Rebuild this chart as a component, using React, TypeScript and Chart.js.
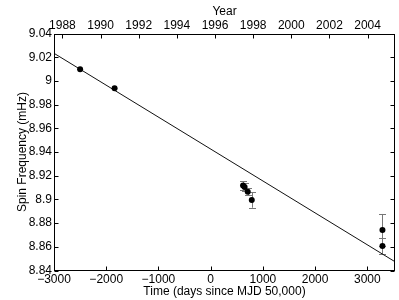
import React, { useEffect, useRef } from "react";
import { Chart, registerables } from "chart.js";

Chart.register(...registerables);

// Observations: days since MJD 50,000 and spin frequency (mHz)
const obsDays = [-2500, -1840, 620, 650, 710, 787, 3290, 3290];
const obsFreq = [9.0098, 8.9938, 8.9118, 8.9105, 8.9065, 8.8995, 8.8742, 8.8607];
const errUp = [0, 0, 0.0035, 0.003, 0.003, 0.0065, 0.0135, 0.0067];
const errDown = [0, 0, 0.0035, 0.003, 0.003, 0.0065, 0.0135, 0.0067];

// Linear fit line endpoints
const fitDays = [-3000, 3530];
const fitFreq = [9.0233, 8.8474];

// Axis tick labels
const yearTicks = [1988, 1990, 1992, 1994, 1996, 1998, 2000, 2002, 2004];
const dayTicks = [-3000, -2000, -1000, 0, 1000, 2000, 3000];
const freqTicks = [8.84, 8.86, 8.88, 8.9, 8.92, 8.94, 8.96, 8.98, 9.0, 9.02, 9.04];

const yearToDays = (y: number) => Date.UTC(y, 0, 1) / 86400000 + 40587 - 50000;
const yearOffsets = yearTicks.map(yearToDays);

const FONT = "'Liberation Sans', Arial, Helvetica, sans-serif";

const fmtFreq = (v: number) => String(parseFloat(Number(v).toFixed(2)));
const fmtDays = (v: number) => (v < 0 ? "\u2212" + Math.abs(v) : String(v));

const boxPlugin = {
  id: "boxTicks",
  beforeDatasetsDraw(chart: any) {
    const ctx = chart.ctx;
    const xs = chart.scales.x;
    const ys = chart.scales.y;
    ctx.save();
    ctx.strokeStyle = "#777";
    ctx.lineWidth = 1;
    obsDays.forEach((d, i) => {
      if (!errUp[i] && !errDown[i]) return;
      const px = Math.round(xs.getPixelForValue(d)) + 0.5;
      const yt = ys.getPixelForValue(obsFreq[i] + errUp[i]);
      const yb = ys.getPixelForValue(obsFreq[i] - errDown[i]);
      ctx.beginPath();
      ctx.moveTo(px, yt);
      ctx.lineTo(px, yb);
      ctx.moveTo(px - 3.5, Math.round(yt) + 0.5);
      ctx.lineTo(px + 3.5, Math.round(yt) + 0.5);
      ctx.moveTo(px - 3.5, Math.round(yb) + 0.5);
      ctx.lineTo(px + 3.5, Math.round(yb) + 0.5);
      ctx.stroke();
    });
    ctx.restore();
  },
  afterDraw(chart: any) {
    const ctx = chart.ctx;
    const a = chart.chartArea;
    const xs = chart.scales.x;
    const ys = chart.scales.y;
    const x2 = chart.scales.x2;
    const L = 4;
    ctx.save();
    ctx.strokeStyle = "#000";
    ctx.lineWidth = 1;
    const l = Math.round(a.left) + 0.5;
    const r = Math.round(a.right) - 0.5;
    const t = Math.round(a.top) + 0.5;
    const b = Math.round(a.bottom) - 0.5;
    ctx.strokeRect(l, t, r - l, b - t);
    ctx.beginPath();
    dayTicks.forEach((d) => {
      const px = Math.round(xs.getPixelForValue(d)) + 0.5;
      ctx.moveTo(px, b);
      ctx.lineTo(px, b - L);
    });
    yearOffsets.forEach((d) => {
      const px = Math.round(x2.getPixelForValue(d)) + 0.5;
      ctx.moveTo(px, t);
      ctx.lineTo(px, t + L);
    });
    freqTicks.forEach((f) => {
      const py = Math.round(ys.getPixelForValue(f)) + 0.5;
      ctx.moveTo(l, py);
      ctx.lineTo(l + L, py);
      ctx.moveTo(r, py);
      ctx.lineTo(r - L, py);
    });
    ctx.stroke();
    ctx.restore();
  },
};

export default function App() {
  const ref = useRef<HTMLCanvasElement | null>(null);
  useEffect(() => {
    if (!ref.current) return;
    const chart = new Chart(ref.current, {
      type: "scatter",
      data: {
        datasets: [
          {
            type: "line",
            data: fitDays.map((d, i) => ({ x: d, y: fitFreq[i] })),
            borderColor: "#111",
            borderWidth: 1,
            pointRadius: 0,
            fill: false,
            order: 2,
          } as any,
          {
            type: "scatter",
            data: obsDays.map((d, i) => ({ x: d, y: obsFreq[i] })),
            backgroundColor: "#000",
            borderColor: "#000",
            borderWidth: 0,
            pointRadius: 3,
            order: 1,
          },
        ],
      },
      options: {
        animation: false,
        responsive: true,
        maintainAspectRatio: false,
        layout: { padding: { right: 4, left: 0, top: 0, bottom: 0 } },
        plugins: { legend: { display: false }, tooltip: { enabled: false } },
        scales: {
          x: {
            type: "linear",
            position: "bottom",
            min: -3000,
            max: 3530,
            grid: { display: false, drawTicks: false },
            border: { display: false },
            afterBuildTicks: (s: any) => {
              s.ticks = dayTicks.map((v) => ({ value: v }));
            },
            afterFit: (s: any) => {
              s.height = 29.5;
            },
            ticks: {
              autoSkip: false,
              maxRotation: 0,
              padding: 2,
              color: "#000",
              font: { family: FONT, size: 12 },
              callback: (v: any) => fmtDays(Number(v)),
            },
            title: {
              display: true,
              text: "Time (days since MJD 50,000)",
              color: "#000",
              font: { family: FONT, size: 12 },
              padding: { top: 0, bottom: 1 },
            },
          },
          x2: {
            type: "linear",
            position: "top",
            min: -3000,
            max: 3530,
            grid: { display: false, drawTicks: false },
            border: { display: false },
            afterBuildTicks: (s: any) => {
              s.ticks = yearOffsets.map((v) => ({ value: v }));
            },
            afterFit: (s: any) => {
              s.height = 33.5;
            },
            ticks: {
              autoSkip: false,
              maxRotation: 0,
              padding: 1,
              color: "#000",
              font: { family: FONT, size: 12 },
              callback: (v: any) => {
                const i = yearOffsets.findIndex((o) => Math.abs(o - Number(v)) < 1e-6);
                return i >= 0 ? String(yearTicks[i]) : "";
              },
            },
            title: {
              display: true,
              text: "Year",
              color: "#000",
              font: { family: FONT, size: 12 },
              padding: { top: 4, bottom: 0 },
            },
          },
          y: {
            type: "linear",
            position: "left",
            min: 8.84,
            max: 9.04,
            grid: { display: false, drawTicks: false },
            border: { display: false },
            afterBuildTicks: (s: any) => {
              s.ticks = freqTicks.map((v) => ({ value: v }));
            },
            afterFit: (s: any) => {
              s.width = 54;
            },
            ticks: {
              autoSkip: false,
              padding: 2,
              color: "#000",
              font: { family: FONT, size: 12 },
              callback: (v: any) => fmtFreq(Number(v)),
            },
            title: {
              display: true,
              text: "Spin Frequency (mHz)",
              color: "#000",
              font: { family: FONT, size: 12 },
              padding: { top: 15.5, bottom: 0 },
            },
          },
        },
      },
      plugins: [boxPlugin],
    });
    return () => chart.destroy();
  }, []);
  return (
    <div style={{ position: "fixed", left: 0, top: 0, width: 399, height: 300, background: "#fff" }}>
      <canvas ref={ref} />
    </div>
  );
}
